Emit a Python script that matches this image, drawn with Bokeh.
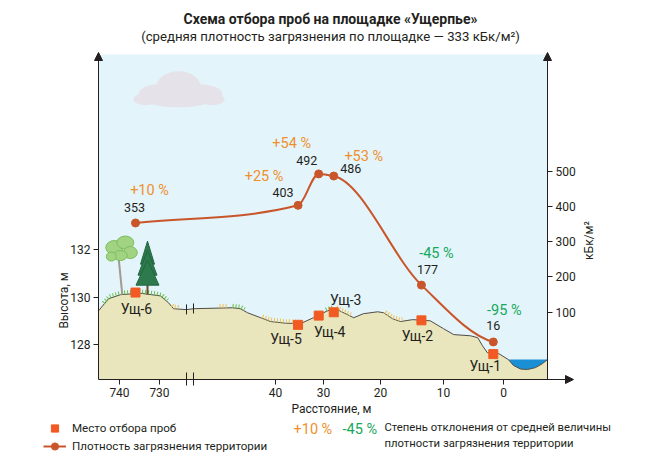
import numpy as np

from bokeh.plotting import figure
from bokeh.models import (ColumnDataSource, Range1d, LinearAxis, FixedTicker, Label,
                          Arrow, NormalHead, Legend, LegendItem)
from bokeh.core.properties import value
from bokeh.embed import file_html
from bokeh.resources import INLINE

FONT = "Roboto"
INK = "#231f20"
POS_COLOR = "#f0902c"
NEG_COLOR = "#17a85a"
CURVE_COLOR = "#c9562a"
SITE_COLOR = "#f15a22"

# sampling sites: distance to the water edge (m) and ground height (m)
SITES = ["Ущ-6", "Ущ-5", "Ущ-4", "Ущ-3", "Ущ-2", "Ущ-1"]
SITE_DIST = [736, 35.3, 31, 28.2, 13.5, 1.7]
SITE_HEIGHT = [130.19, 128.83, 129.22, 129.36, 129.02, 127.6]

# contamination density at the sites, kBq/m2, and deviation from the site mean, %
DENSITY = [353, 403, 492, 486, 177, 16]
DEVIATION = [10, 25, 54, 53, -45, -95]
MEAN_DENSITY = 333

DIST_TICKS = [740, 730, 40, 30, 20, 10, 0]
HEIGHT_TICKS = [128, 130, 132]
DENSITY_TICKS = [100, 200, 300, 400, 500]

# ground profile along the transect
GROUND_DIST = [745.25, 742.75, 739.75, 734.75, 729.75, 727.75, 726.5, 723.25,
               57, 48.9, 47.3, 45.8, 43.1, 41.0, 37.9, 34.8, 32.1, 29.3, 27.9,
               24.7, 23.0, 20.5, 19.5, 18.1, 16.8, 14.9, 12.1, 10.0, 8.3, 5.5,
               4.3, 3.5, 2.7, 0.8, -0.8, -1.67, -2.83, -4.0, -5.33, -6.5, -7.33]
GROUND_HEIGHT = [129.42, 129.93, 130.10, 130.16, 130.05, 129.76, 129.51, 129.47,
                 129.51, 129.55, 129.51, 129.34, 129.13, 128.97, 128.90, 128.88, 129.13, 129.42, 129.51,
                 129.13, 129.30, 129.38, 129.34, 129.09, 128.97, 129.05, 129.00, 128.67, 128.42, 128.37,
                 128.29, 127.95, 127.66, 127.62, 127.37, 127.12, 126.97, 126.95, 127.03, 127.20, 127.37]
WATER_FROM = -0.8

# grass strips (from, to distance) - green and dry
GREEN_GRASS = [(744, 728), (48.9, 46.4), (29.6, 28.2)]
DRY_GRASS = [(726.8, 724.8), (51.6, 50), (42.7, 34.8), (27.7, 24.9), (19.2, 16.5)]
BIRCH_DIST = 739.3
SPRUCE_DIST = 733

# the distance axis of the scheme is broken and stretched by hand: distance -> position
AXIS_DIST = [-10, 0, 10, 20, 30, 40, 57, 723.25, 730, 740, 750]
AXIS_POS = [563, 503, 443, 380, 323, 275, 193, 186, 159, 119, 79]
BREAK_DIST = [723.25, 57]

# page layout: the chart box inside the canvas, px
W, H = 645, 462
BOX_LEFT, BOX_RIGHT, BOX_TOP, BOX_BOTTOM = 98, 547, 54, 379
HEIGHT_SPAN = (126.53, 140.21)
DENS_SPAN = (-90.4, 830.3)


def pos(d):
    return np.interp(d, AXIS_DIST, AXIS_POS)


def ground_at(d):
    return np.interp(d, GROUND_DIST[::-1], GROUND_HEIGHT[::-1])


def stretch(lo, hi):
    k = (hi - lo) / (BOX_BOTTOM - BOX_TOP)
    return Range1d(lo - (H - BOX_BOTTOM) * k, hi + BOX_TOP * k)


p = figure(width=W, height=H, x_range=Range1d(0, W), y_range=stretch(*HEIGHT_SPAN),
           min_border=0, output_backend="svg", toolbar_location=None)
p.extra_y_ranges = {"dens": stretch(*DENS_SPAN), "page": Range1d(H, 0)}
p.outline_line_color = None
p.grid.visible = False
PX = (BOX_BOTTOM - BOX_TOP) / (HEIGHT_SPAN[1] - HEIGHT_SPAN[0])   # pixels per metre of height

# sky
p.quad(left=BOX_LEFT, right=BOX_RIGHT, bottom=HEIGHT_SPAN[0], top=HEIGHT_SPAN[1],
       fill_color="#e3f4fb", line_color=None)

# cloud
cloud_x, cloud_z = 178, 138.7
p.ellipse(x=[cloud_x + dx for dx in (0, -20, 22, -33, 34, 0)],
          y=[cloud_z - dy / PX for dy in (-4, 4, 4, 9, 9, 8)],
          width=[44, 40, 44, 24, 24, 70], height=[30, 20, 20, 12, 12, 18],
          width_units="screen", height_units="screen",
          fill_color="#e6e2e9", line_color=None)

# ground and water
gx = list(pos(GROUND_DIST))
p.patch(gx + [gx[-1], gx[0]], GROUND_HEIGHT + [HEIGHT_SPAN[0], HEIGHT_SPAN[0]],
        fill_color="#e9e5bc", line_color=None)
wi = GROUND_DIST.index(WATER_FROM)
p.patch(pos(GROUND_DIST[wi:]), GROUND_HEIGHT[wi:], fill_color="#1a8fd3", line_color=None)
p.line(gx, GROUND_HEIGHT, line_color="#4f4c46", line_width=1)

for strips, col in ((GREEN_GRASS, "#6cc04a"), (DRY_GRASS, "#f2c04a")):
    for a, b in strips:
        d = np.linspace(a, b, 12)
        p.line(pos(d), ground_at(d) + 2 / PX, line_color=col, line_width=4, line_dash="1 2")

# trees
bx, bz = float(pos(BIRCH_DIST)), float(ground_at(BIRCH_DIST))
p.segment(bx, bz, bx - 4, bz + 40 / PX, line_color="#a59a8e", line_width=2)
crown = [(-8, 47, 17, 14), (3, 52, 17, 13), (8, 42, 14, 12), (-2, 39, 14, 10), (-11, 38, 10, 9)]
p.ellipse(x=[bx + c[0] for c in crown], y=[bz + c[1] / PX for c in crown],
          width=[c[2] for c in crown], height=[c[3] for c in crown],
          width_units="screen", height_units="screen",
          fill_color="#a2d383", line_color="#7dbd5b", line_width=1)
sx, sz = float(pos(SPRUCE_DIST)), float(ground_at(SPRUCE_DIST))
p.segment(sx, sz, sx, sz + 14 / PX, line_color="#6b4a2d", line_width=2)
tiers = [(53, 30, 7), (44, 19, 9.5), (34, 9, 11.5)]
p.patches(xs=[[sx, sx - w, sx + w] for a, b, w in tiers],
          ys=[[sz + a / PX, sz + b / PX, sz + b / PX] for a, b, w in tiers],
          fill_color="#2d7a4d", line_color="#236540")

# axis break on the profile and on the distance axis
bxs = pos(BREAK_DIST)
bzs = ground_at(BREAK_DIST)
p.segment(bxs, bzs - 0.2, bxs, bzs + 0.22, line_color=INK, line_width=1)
p.segment(bxs, HEIGHT_SPAN[0] - 6 / PX, bxs, HEIGHT_SPAN[0] + 7 / PX, line_color=INK, line_width=1)

# density curve through the sites (monotone cubic segments)
lx = pos(SITE_DIST)
ly = np.array(DENSITY, dtype=float)
h = np.diff(lx)
s = np.diff(ly) / h
m = np.zeros_like(ly)
m[0], m[-1] = s[0], s[-1] / 3
for i in range(1, len(ly) - 1):
    if s[i - 1] * s[i] > 0:
        w1, w2 = 2 * h[i] + h[i - 1], h[i] + 2 * h[i - 1]
        m[i] = (w1 + w2) / (w1 / s[i - 1] + w2 / s[i])
p.bezier(x0=lx[:-1], y0=ly[:-1], x1=lx[1:], y1=ly[1:],
         cx0=lx[:-1] + h / 3, cy0=ly[:-1] + m[:-1] * h / 3,
         cx1=lx[1:] - h / 3, cy1=ly[1:] - m[1:] * h / 3,
         y_range_name="dens", line_color=CURVE_COLOR, line_width=2)
dots = p.scatter(lx, ly, y_range_name="dens", size=8, color=CURVE_COLOR)
squares = p.scatter(pos(SITE_DIST), SITE_HEIGHT, marker="square", size=9, color=SITE_COLOR)

# value and deviation labels
val_dx = [-1, -15, -12, 17, 6, 0]
val_dy = [-15, -13, -13, -8, -16, -16]
dev_dx = [14, -34, -27, 30, 15, 11]
dev_dy = [-32, -29, -30, -20, -32, -31]
vals = ColumnDataSource(dict(x=lx, y=ly, txt=[str(v) for v in DENSITY], dx=val_dx, dy=val_dy))
p.text(x="x", y="y", text="txt", x_offset="dx", y_offset="dy", source=vals, y_range_name="dens",
       text_font=value(FONT), text_font_size="12.5px", text_color=INK,
       text_align="center", text_baseline="middle")
devs = ColumnDataSource(dict(x=lx, y=ly, txt=[f"{v:+d} %" for v in DEVIATION], dx=dev_dx, dy=dev_dy,
                             col=[POS_COLOR if v > 0 else NEG_COLOR for v in DEVIATION]))
p.text(x="x", y="y", text="txt", x_offset="dx", y_offset="dy", source=devs, y_range_name="dens",
       text_font=value(FONT), text_font_size="14.5px", text_color="col",
       text_align="center", text_baseline="middle")

site_dx = [1, -12, 11, 12, -4, -8]
site_dy = [16, 14, 16, -12, 16, 12]
site_src = ColumnDataSource(dict(x=pos(SITE_DIST), y=SITE_HEIGHT, txt=SITES, dx=site_dx, dy=site_dy))
p.text(x="x", y="y", text="txt", x_offset="dx", y_offset="dy", source=site_src,
       text_font=value(FONT), text_font_size="14px", text_color=INK,
       text_align="center", text_baseline="middle")

# axes pinned to the chart box
p.yaxis.fixed_location = BOX_LEFT
p.yaxis.bounds = HEIGHT_SPAN
p.yaxis.ticker = FixedTicker(ticks=HEIGHT_TICKS)
p.xaxis.fixed_location = HEIGHT_SPAN[0]
p.xaxis.bounds = (BOX_LEFT, BOX_RIGHT)
p.xaxis.ticker = FixedTicker(ticks=[int(pos(d)) for d in DIST_TICKS])
p.xaxis.major_label_overrides = {int(pos(d)): str(d) for d in DIST_TICKS}
right = LinearAxis(y_range_name="dens", fixed_location=BOX_RIGHT, bounds=DENS_SPAN,
                   ticker=FixedTicker(ticks=DENSITY_TICKS))
p.add_layout(right, "right")
for ax in p.axis:
    ax.axis_line_color = INK
    ax.major_tick_line_color = INK
    ax.major_tick_out = 5
    ax.major_tick_in = 0
    ax.minor_tick_line_color = None
    ax.major_label_text_font = FONT
    ax.major_label_text_font_size = "12px"
    ax.major_label_text_color = INK
    ax.major_label_standoff = 3

head = dict(size=8, fill_color=INK, line_color=INK)
for xa in (BOX_LEFT, BOX_RIGHT):
    p.add_layout(Arrow(end=NormalHead(**head), x_start=xa, y_start=BOX_TOP + 8, x_end=xa, y_end=BOX_TOP - 2,
                       y_range_name="page", line_color=INK, line_width=1))
p.add_layout(Arrow(end=NormalHead(**head), x_start=BOX_RIGHT - 5, y_start=BOX_BOTTOM, x_end=BOX_RIGHT + 26,
                   y_end=BOX_BOTTOM, y_range_name="page", line_color=INK, line_width=1))


# titles, axis names and the note
def text(x, y, t, size="12px", angle=0, align="center", color=INK, style="normal"):
    p.add_layout(Label(x=x, y=y, text=t, y_range_name="page", angle=angle,
                       text_font=FONT, text_font_size=size, text_color=color,
                       text_font_style=style, text_align=align, text_baseline="middle"))


text(330, 18, "Схема отбора проб на площадке «Ущерпье»", size="14px", style="bold")
text(330, 36, f"(средняя плотность загрязнения по площадке — {MEAN_DENSITY} кБк/м²)", size="13.2px")
text(63, 300, "Высота, м", angle=np.pi / 2)
text(588, 240, "кБк/м²", angle=np.pi / 2)
text(331, 408, "Расстояние, м")

text(293, 429, f"{DEVIATION[0]:+d} %", size="14.5px", align="left", color=POS_COLOR)
text(342, 429, f"{DEVIATION[4]:+d} %", size="14.5px", align="left", color=NEG_COLOR)
text(384, 427, "Степень отклонения от средней величины", size="11.3px", align="left")
text(384, 443, "плотности загрязнения территории", size="11.3px", align="left")

# legend (the line entry uses an off-canvas proxy line)
line_proxy = p.line([-100, -90], [0, 0], line_color=CURVE_COLOR, line_width=2)
legend = Legend(items=[LegendItem(label="Место отбора проб", renderers=[squares]),
                       LegendItem(label="Плотность загрязнения территории", renderers=[line_proxy, dots])],
                location=(43, H - 455), padding=0, margin=0, spacing=0, glyph_width=23, glyph_height=18,
                label_standoff=6, label_text_font=FONT, label_text_font_size="11.6px",
                label_text_color=INK, border_line_color=None, background_fill_alpha=0)
p.add_layout(legend, "center")

open("out.html", "w").write(file_html(p, INLINE))
